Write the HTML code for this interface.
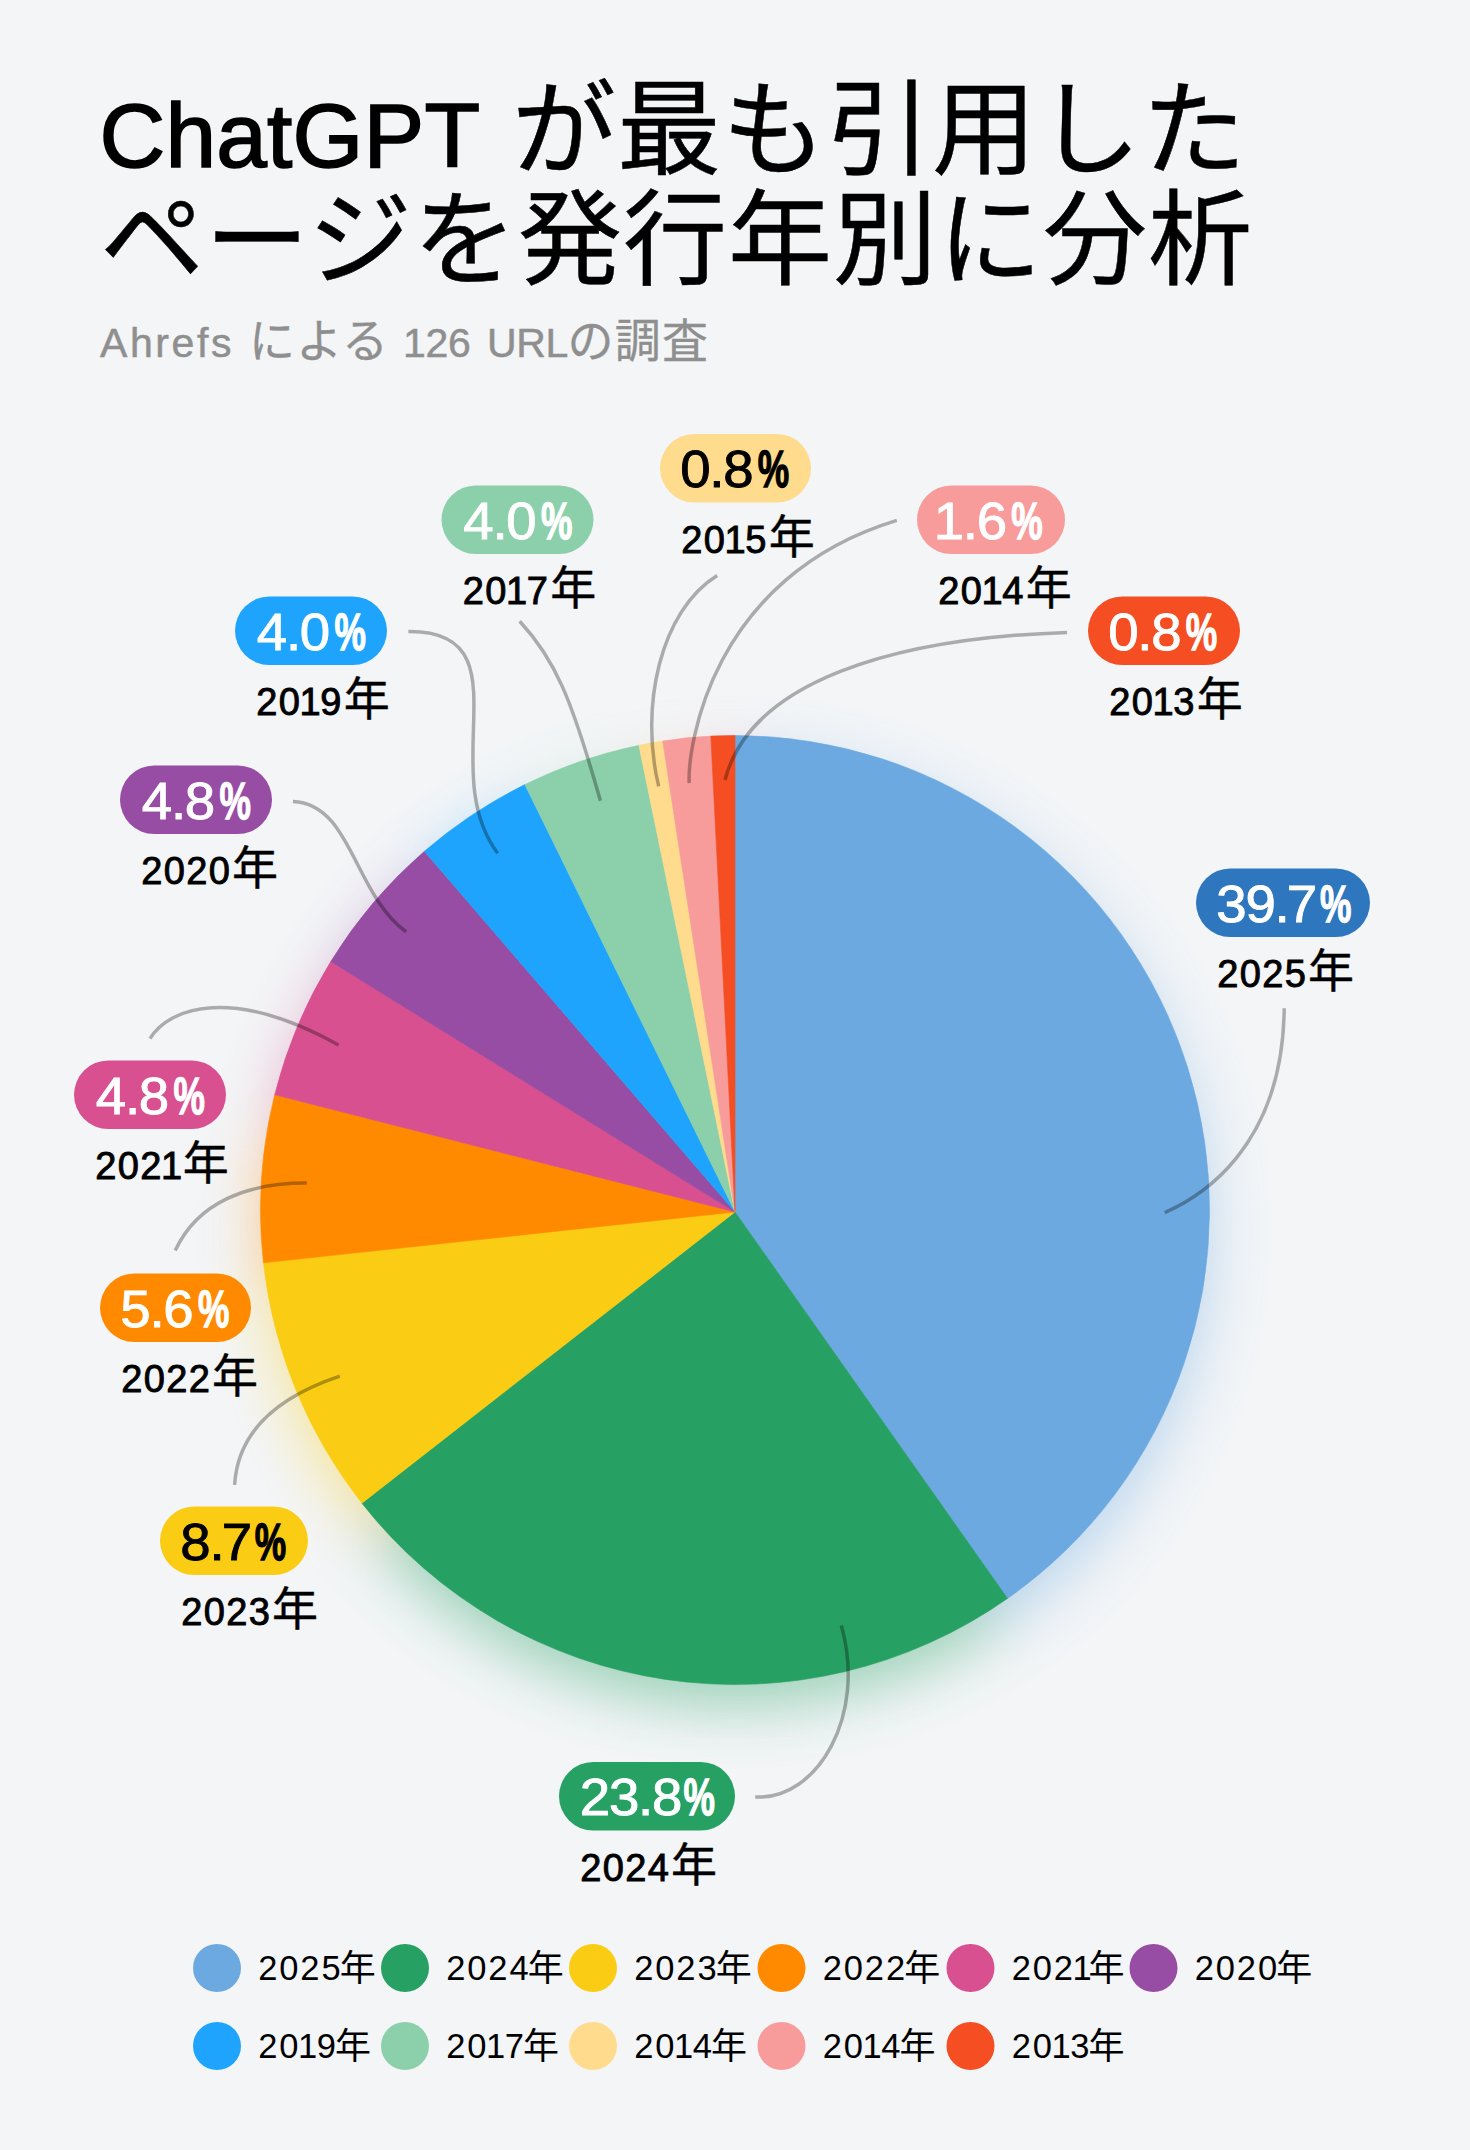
<!DOCTYPE html>
<html lang="ja"><head><meta charset="utf-8"><title>ChatGPT が最も引用したページを発行年別に分析</title>
<style>
html,body{margin:0;padding:0;background:#f3f5f7;}
body{width:1470px;height:2150px;overflow:hidden;}
svg{display:block;}
text{font-family:"Liberation Sans","Noto Sans CJK JP",sans-serif;}
.t1{font-size:104px;font-weight:400;fill:#000;letter-spacing:1px;stroke:#000;stroke-width:0.5px;}
.t1 .lat{font-size:91px;font-weight:400;stroke:#000;stroke-width:1.7px;letter-spacing:0.2px;}
.sub{font-size:41px;fill:#8f8f8f;stroke:#8f8f8f;stroke-width:0.5px;}
.sub .j{font-size:46px;letter-spacing:1.2px;stroke-width:0.3px;}
.pct{font-size:52px;stroke-width:0.9px;letter-spacing:-1.2px;}
.pc{font-size:52px;font-weight:700;stroke-width:1.3px;}
.yr{fill:#000;}
.yr .d{font-size:38px;stroke:#000;stroke-width:0.9px;letter-spacing:1.3px;}
.yr .k{font-size:46px;font-weight:400;stroke:#000;stroke-width:0.4px;}
.lg{font-size:34.5px;fill:#000;}
.lg .ld{letter-spacing:1.9px;}
.lg .lk{font-size:36px;}
.lines path{fill:none;stroke:#000;stroke-opacity:0.3;stroke-width:3.5;}
</style></head><body>
<svg width="1470" height="2150" viewBox="0 0 1470 2150">
<defs><filter id="glow" x="-20%" y="-20%" width="140%" height="140%"><feGaussianBlur stdDeviation="30"/></filter></defs>
<rect width="1470" height="2150" fill="#f3f5f7"/>
<text class="t1" x="99.5" y="166.5"><tspan class="lat">ChatGPT</tspan><tspan x="512">が最も引用した</tspan></text>
<text class="t1" x="100" y="277">ページを発行年別に分析</text>
<text class="sub" y="357"><tspan x="100" letter-spacing="2.6">Ahrefs</tspan><tspan class="j" x="249">による</tspan><tspan x="403" letter-spacing="-0.3">126</tspan><tspan x="487" letter-spacing="-0.4">URL</tspan><tspan class="j" x="567.5">の調査</tspan></text>
<g filter="url(#glow)" opacity="0.42" transform="translate(0,22)">
<path d="M735 1212L735.00 735.50A474.5 474.5 0 0 1 1007.51 1598.45Z" fill="#6ca9e0" stroke="#6ca9e0" stroke-width="0.6"/>
<path d="M735 1212L1007.51 1598.45A474.5 474.5 0 0 1 361.88 1503.14Z" fill="#27a063" stroke="#27a063" stroke-width="0.6"/>
<path d="M735 1212L361.88 1503.14A474.5 474.5 0 0 1 263.45 1262.81Z" fill="#facd14" stroke="#facd14" stroke-width="0.6"/>
<path d="M735 1212L263.45 1262.81A474.5 474.5 0 0 1 274.71 1094.75Z" fill="#ff8a00" stroke="#ff8a00" stroke-width="0.6"/>
<path d="M735 1212L274.71 1094.75A474.5 474.5 0 0 1 330.78 961.49Z" fill="#d8508f" stroke="#d8508f" stroke-width="0.6"/>
<path d="M735 1212L330.78 961.49A474.5 474.5 0 0 1 424.37 851.31Z" fill="#974da3" stroke="#974da3" stroke-width="0.6"/>
<path d="M735 1212L424.37 851.31A474.5 474.5 0 0 1 524.85 784.57Z" fill="#1ea4fc" stroke="#1ea4fc" stroke-width="0.6"/>
<path d="M735 1212L524.85 784.57A474.5 474.5 0 0 1 638.91 745.33Z" fill="#8cd0ab" stroke="#8cd0ab" stroke-width="0.6"/>
<path d="M735 1212L638.91 745.33A474.5 474.5 0 0 1 662.71 741.04Z" fill="#ffdb8e" stroke="#ffdb8e" stroke-width="0.6"/>
<path d="M735 1212L662.71 741.04A474.5 474.5 0 0 1 710.82 736.12Z" fill="#f79c9b" stroke="#f79c9b" stroke-width="0.6"/>
<path d="M735 1212L710.82 736.12A474.5 474.5 0 0 1 735.00 735.50Z" fill="#f44e22" stroke="#f44e22" stroke-width="0.6"/>
</g>
<g>
<path d="M735 1212L735.00 735.50A474.5 474.5 0 0 1 1007.51 1598.45Z" fill="#6ca9e0" stroke="#6ca9e0" stroke-width="0.6"/>
<path d="M735 1212L1007.51 1598.45A474.5 474.5 0 0 1 361.88 1503.14Z" fill="#27a063" stroke="#27a063" stroke-width="0.6"/>
<path d="M735 1212L361.88 1503.14A474.5 474.5 0 0 1 263.45 1262.81Z" fill="#facd14" stroke="#facd14" stroke-width="0.6"/>
<path d="M735 1212L263.45 1262.81A474.5 474.5 0 0 1 274.71 1094.75Z" fill="#ff8a00" stroke="#ff8a00" stroke-width="0.6"/>
<path d="M735 1212L274.71 1094.75A474.5 474.5 0 0 1 330.78 961.49Z" fill="#d8508f" stroke="#d8508f" stroke-width="0.6"/>
<path d="M735 1212L330.78 961.49A474.5 474.5 0 0 1 424.37 851.31Z" fill="#974da3" stroke="#974da3" stroke-width="0.6"/>
<path d="M735 1212L424.37 851.31A474.5 474.5 0 0 1 524.85 784.57Z" fill="#1ea4fc" stroke="#1ea4fc" stroke-width="0.6"/>
<path d="M735 1212L524.85 784.57A474.5 474.5 0 0 1 638.91 745.33Z" fill="#8cd0ab" stroke="#8cd0ab" stroke-width="0.6"/>
<path d="M735 1212L638.91 745.33A474.5 474.5 0 0 1 662.71 741.04Z" fill="#ffdb8e" stroke="#ffdb8e" stroke-width="0.6"/>
<path d="M735 1212L662.71 741.04A474.5 474.5 0 0 1 710.82 736.12Z" fill="#f79c9b" stroke="#f79c9b" stroke-width="0.6"/>
<path d="M735 1212L710.82 736.12A474.5 474.5 0 0 1 735.00 735.50Z" fill="#f44e22" stroke="#f44e22" stroke-width="0.6"/>
</g>
<g class="lines">
<path d="M408.4 631.5C527.8 630.7 434.0 768.7 497.7 853.3"/>
<path d="M519.7 621.2C555.0 659.2 571.3 697.9 600.4 800.8"/>
<path d="M717.2 575.5C660.3 610.8 639.4 706.7 658.7 786.4"/>
<path d="M896.8 520.4C709.7 577.4 687.5 748.7 689.2 783.2"/>
<path d="M1067.1 632.4C891.5 638.3 750.4 682.1 725.0 780.0"/>
<path d="M292.9 801.4C351.5 803.7 353.1 892.7 406.2 931.9"/>
<path d="M150.0 1038.6C169.3 1007.2 231.8 985.6 338.6 1045.0"/>
<path d="M175.2 1250.6C197.9 1201.4 248.3 1182.9 306.8 1183.1"/>
<path d="M234.6 1484.8C237.9 1429.3 281.0 1395.8 339.8 1376.1"/>
<path d="M755.2 1797.0C817.7 1800.3 866.9 1715.2 841.3 1625.4"/>
<path d="M1284.2 1008.2C1282.8 1149.1 1198.8 1197.4 1164.7 1212.6"/>
</g>
<rect x="660" y="434" width="151" height="68.5" rx="34.25" fill="#ffdb8e"/>
<text class="pct" transform="translate(680.15 487.3) scale(1.05 1)" fill="#000" stroke="#000">0.8</text>
<text class="pc" transform="translate(757.77 487.3) scale(0.68 1)" fill="#000" stroke="#000">%</text>
<text class="yr" x="681.36" y="552.8"><tspan class="d">20<tspan dx="-1.7">1</tspan><tspan dx="-1.7">5</tspan></tspan><tspan class="k" dx="1">年</tspan></text>
<rect x="441.5" y="485.5" width="152" height="68.5" rx="34.25" fill="#8cd0ab"/>
<text class="pct" transform="translate(463.29 538.8) scale(1.05 1)" fill="#fff" stroke="#fff">4.0</text>
<text class="pc" transform="translate(540.90 538.8) scale(0.68 1)" fill="#fff" stroke="#fff">%</text>
<text class="yr" x="462.86" y="604.3"><tspan class="d">20<tspan dx="-1.7">1</tspan><tspan dx="-1.7">7</tspan></tspan><tspan class="k" dx="1">年</tspan></text>
<rect x="917" y="485.5" width="148" height="68.5" rx="34.25" fill="#f79c9b"/>
<text class="pct" transform="translate(933.66 538.8) scale(1.05 1)" fill="#fff" stroke="#fff">1.6</text>
<text class="pc" transform="translate(1011.27 538.8) scale(0.68 1)" fill="#fff" stroke="#fff">%</text>
<text class="yr" x="938.36" y="604.3"><tspan class="d">20<tspan dx="-1.7">1</tspan><tspan dx="-1.7">4</tspan></tspan><tspan class="k" dx="1">年</tspan></text>
<rect x="235" y="596.5" width="152" height="68.5" rx="34.25" fill="#1ea4fc"/>
<text class="pct" transform="translate(256.79 649.8) scale(1.05 1)" fill="#fff" stroke="#fff">4.0</text>
<text class="pc" transform="translate(334.40 649.8) scale(0.68 1)" fill="#fff" stroke="#fff">%</text>
<text class="yr" x="256.36" y="715.3"><tspan class="d">20<tspan dx="-1.7">1</tspan><tspan dx="-1.7">9</tspan></tspan><tspan class="k" dx="1">年</tspan></text>
<rect x="1088" y="596.5" width="152" height="68.5" rx="34.25" fill="#f44e22"/>
<text class="pct" transform="translate(1108.15 649.8) scale(1.05 1)" fill="#fff" stroke="#fff">0.8</text>
<text class="pc" transform="translate(1185.77 649.8) scale(0.68 1)" fill="#fff" stroke="#fff">%</text>
<text class="yr" x="1109.36" y="715.3"><tspan class="d">20<tspan dx="-1.7">1</tspan><tspan dx="-1.7">3</tspan></tspan><tspan class="k" dx="1">年</tspan></text>
<rect x="120" y="765.5" width="152" height="68.5" rx="34.25" fill="#974da3"/>
<text class="pct" transform="translate(141.79 818.8) scale(1.05 1)" fill="#fff" stroke="#fff">4.8</text>
<text class="pc" transform="translate(219.40 818.8) scale(0.68 1)" fill="#fff" stroke="#fff">%</text>
<text class="yr" x="141.36" y="884.3"><tspan class="d">2020</tspan><tspan class="k" dx="1">年</tspan></text>
<rect x="1196" y="868.5" width="174" height="68.5" rx="34.25" fill="#2e76bd"/>
<text class="pct" transform="translate(1216.32 921.8) scale(1.05 1)" fill="#fff" stroke="#fff">39.<tspan dx="-1.5">7</tspan></text>
<text class="pc" transform="translate(1319.88 921.8) scale(0.68 1)" fill="#fff" stroke="#fff">%</text>
<text class="yr" x="1217.36" y="987.3"><tspan class="d">2025</tspan><tspan class="k" dx="1">年</tspan></text>
<rect x="74" y="1060.5" width="152" height="68.5" rx="34.25" fill="#d8508f"/>
<text class="pct" transform="translate(95.79 1113.8) scale(1.05 1)" fill="#fff" stroke="#fff">4.8</text>
<text class="pc" transform="translate(173.40 1113.8) scale(0.68 1)" fill="#fff" stroke="#fff">%</text>
<text class="yr" x="95.36" y="1179.3"><tspan class="d">202<tspan dx="-1.7">1</tspan></tspan><tspan class="k" dx="-0.7">年</tspan></text>
<rect x="100" y="1273.5" width="151" height="68.5" rx="34.25" fill="#ff8a00"/>
<text class="pct" transform="translate(120.32 1326.8) scale(1.05 1)" fill="#fff" stroke="#fff">5.6</text>
<text class="pc" transform="translate(197.93 1326.8) scale(0.68 1)" fill="#fff" stroke="#fff">%</text>
<text class="yr" x="121.36" y="1392.3"><tspan class="d">2022</tspan><tspan class="k" dx="1">年</tspan></text>
<rect x="160" y="1506.5" width="148" height="68.5" rx="34.25" fill="#facd14"/>
<text class="pct" transform="translate(180.32 1559.8) scale(1.05 1)" fill="#000" stroke="#000">8.<tspan dx="-1.5">7</tspan></text>
<text class="pc" transform="translate(254.78 1559.8) scale(0.68 1)" fill="#000" stroke="#000">%</text>
<text class="yr" x="181.36" y="1625.3"><tspan class="d">2023</tspan><tspan class="k" dx="1">年</tspan></text>
<rect x="559" y="1762" width="176" height="68.5" rx="34.25" fill="#27a063"/>
<text class="pct" transform="translate(579.86 1815.3) scale(1.05 1)" fill="#fff" stroke="#fff">23.8</text>
<text class="pc" transform="translate(683.57 1815.3) scale(0.68 1)" fill="#fff" stroke="#fff">%</text>
<text class="yr" x="580.36" y="1880.8"><tspan class="d">2024</tspan><tspan class="k" dx="1">年</tspan></text>
<circle cx="217" cy="1968" r="24" fill="#6ca9e0"/>
<text class="lg" x="258.2" y="1980.1"><tspan class="ld">2025</tspan><tspan class="lk" dx="-2.7" dy="1">年</tspan></text>
<circle cx="405" cy="1968" r="24" fill="#27a063"/>
<text class="lg" x="446.2" y="1980.1"><tspan class="ld">2024</tspan><tspan class="lk" dx="-2.7" dy="1">年</tspan></text>
<circle cx="593" cy="1968" r="24" fill="#facd14"/>
<text class="lg" x="634.2" y="1980.1"><tspan class="ld">2023</tspan><tspan class="lk" dx="-2.7" dy="1">年</tspan></text>
<circle cx="781.5" cy="1968" r="24" fill="#ff8a00"/>
<text class="lg" x="822.7" y="1980.1"><tspan class="ld">2022</tspan><tspan class="lk" dx="-2.7" dy="1">年</tspan></text>
<circle cx="970.5" cy="1968" r="24" fill="#d8508f"/>
<text class="lg" x="1011.7" y="1980.1"><tspan class="ld">202<tspan dx="-2.4">1</tspan></tspan><tspan class="lk" dx="-5.1" dy="1">年</tspan></text>
<circle cx="1153.5" cy="1968" r="24" fill="#974da3"/>
<text class="lg" x="1194.7" y="1980.1"><tspan class="ld">2020</tspan><tspan class="lk" dx="-2.7" dy="1">年</tspan></text>
<circle cx="217" cy="2046" r="24" fill="#1ea4fc"/>
<text class="lg" x="258.2" y="2058.1"><tspan class="ld">20<tspan dx="-2.4">1</tspan><tspan dx="-2.4">9</tspan></tspan><tspan class="lk" dx="-2.7" dy="1">年</tspan></text>
<circle cx="405" cy="2046" r="24" fill="#8cd0ab"/>
<text class="lg" x="446.2" y="2058.1"><tspan class="ld">20<tspan dx="-2.4">1</tspan><tspan dx="-2.4">7</tspan></tspan><tspan class="lk" dx="-2.7" dy="1">年</tspan></text>
<circle cx="593" cy="2046" r="24" fill="#ffdb8e"/>
<text class="lg" x="634.2" y="2058.1"><tspan class="ld">20<tspan dx="-2.4">1</tspan><tspan dx="-2.4">4</tspan></tspan><tspan class="lk" dx="-2.7" dy="1">年</tspan></text>
<circle cx="781.5" cy="2046" r="24" fill="#f79c9b"/>
<text class="lg" x="822.7" y="2058.1"><tspan class="ld">20<tspan dx="-2.4">1</tspan><tspan dx="-2.4">4</tspan></tspan><tspan class="lk" dx="-2.7" dy="1">年</tspan></text>
<circle cx="970.5" cy="2046" r="24" fill="#f44e22"/>
<text class="lg" x="1011.7" y="2058.1"><tspan class="ld">20<tspan dx="-2.4">1</tspan><tspan dx="-2.4">3</tspan></tspan><tspan class="lk" dx="-2.7" dy="1">年</tspan></text>
</svg>
</body></html>
